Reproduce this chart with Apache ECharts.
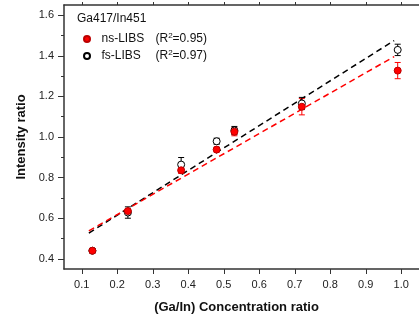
<!DOCTYPE html>
<html><head><meta charset="utf-8">
<script src="https://cdn.jsdelivr.net/npm/echarts@6/dist/echarts.min.js"></script>
<style>html,body{margin:0;padding:0;background:#fff}#c{width:419px;height:320px}</style>
</head><body><div id="c"></div>
<script>
// Data
var conc = [0.13, 0.23, 0.38, 0.48, 0.53, 0.72, 0.99];
var nsVals = [0.44, 0.635, 0.836, 0.938, 1.026, 1.149, 1.327];
var nsErr = [0.01, 0.012, 0.015, 0.012, 0.02, 0.04, 0.04];
var fsVals = [0.44, 0.628, 0.864, 0.979, 1.032, 1.165, 1.429];
var fsErr = [0.01, 0.028, 0.035, 0.015, 0.02, 0.03, 0.028];
var fitX = [0.12, 0.98];
var nsFit = [0.538, 1.396];
var fsFit = [0.527, 1.475];
var xTicks = [0.1, 0.2, 0.3, 0.4, 0.5, 0.6, 0.7, 0.8, 0.9, 1.0];
var yTicks = [0.4, 0.6, 0.8, 1.0, 1.2, 1.4, 1.6];
var yMinor = [0.5, 0.7, 0.9, 1.1, 1.3, 1.5];
var legendTitle = 'Ga417/In451';
var r2 = { 'ns-LIBS': '0.95', 'fs-LIBS': '0.97' };

var font = 'Liberation Sans, Arial, sans-serif';
function zip(a, b) { return a.map(function (v, i) { return [v, b[i]]; }); }
function errData(vals, errs) { return conc.map(function (x, i) { return [x, vals[i] - errs[i], vals[i] + errs[i]]; }); }
function errRender(color) {
  return function (params, api) {
    var x = api.value(0);
    var lo = api.coord([x, api.value(1)]);
    var hi = api.coord([x, api.value(2)]);
    var w = 3;
    var st = { stroke: color, lineWidth: 1 };
    return { type: 'group', children: [
      { type: 'line', shape: { x1: lo[0], y1: lo[1], x2: hi[0], y2: hi[1] }, style: st },
      { type: 'line', shape: { x1: lo[0] - w, y1: lo[1], x2: lo[0] + w, y2: lo[1] }, style: st },
      { type: 'line', shape: { x1: hi[0] - w, y1: hi[1], x2: hi[0] + w, y2: hi[1] }, style: st }
    ] };
  };
}
var axisCol = '#333';
var chart = echarts.init(document.getElementById('c'), null, { renderer: 'canvas' });
chart.setOption({
  animation: false,
  backgroundColor: '#fff',
  textStyle: { fontFamily: font },
  title: { text: legendTitle, left: 77, top: 13, padding: 0, textStyle: { fontSize: 12, fontWeight: 'normal', color: '#111', fontFamily: font } },
  legend: {
    orient: 'vertical', left: 83, top: 32, padding: 0, itemGap: 4, itemWidth: 19, itemHeight: 6,
    data: [{ name: 'ns-LIBS', icon: 'circle' }, { name: 'fs-LIBS', icon: 'circle' }],
    formatter: function (n) {
      return '{n|' + n + '}{a|(R}{s|2}{a|=' + r2[n] + ')}';
    },
    textStyle: { rich: {
      n: { fontSize: 12, color: '#111', fontFamily: font, width: 54 },
      a: { fontSize: 12, color: '#111', fontFamily: font },
      s: { fontSize: 8, color: '#111', fontFamily: font, verticalAlign: 'top', padding: [0, 0, 6, 0] }
    } }
  },
  grid: { left: 64, top: 5, right: -10, bottom: 51, containLabel: false },
  xAxis: [{
    type: 'value', min: 0.05, max: 1.05, position: 'bottom',
    name: '(Ga/In) Concentration ratio', nameLocation: 'middle', nameGap: 32,
    nameTextStyle: { fontSize: 13, fontWeight: 'bold', color: '#111', fontFamily: font, padding: [0, 10, 0, 0] },
    splitLine: { show: false },
    axisLine: { lineStyle: { color: axisCol, width: 1.5 } },
    axisTick: { customValues: xTicks, length: 5, lineStyle: { color: axisCol, width: 1 } },
    axisLabel: { customValues: xTicks, fontSize: 11, color: '#222', margin: 10, formatter: function (v) { return v.toFixed(1); } }
  }, {
    type: 'value', min: 0.05, max: 1.05, position: 'top',
    splitLine: { show: false },
    axisLine: { lineStyle: { color: axisCol, width: 1.5 } },
    axisTick: { customValues: xTicks, length: 3, inside: false, lineStyle: { color: axisCol } },
    axisLabel: { show: false }
  }],
  yAxis: [{
    type: 'value', min: 0.35, max: 1.65, position: 'left',
    name: 'Intensity ratio', nameLocation: 'middle', nameGap: 35,
    nameTextStyle: { fontSize: 13, fontWeight: 'bold', color: '#111', fontFamily: font },
    splitLine: { show: false },
    axisLine: { lineStyle: { color: axisCol, width: 1.5 } },
    axisTick: { customValues: yTicks, length: 6, lineStyle: { color: axisCol } },
    axisLabel: { customValues: yTicks, fontSize: 11, color: '#222', margin: 10, formatter: function (v) { return v.toFixed(1); } }
  }, {
    type: 'value', min: 0.35, max: 1.65, position: 'left',
    splitLine: { show: false },
    axisLine: { show: false },
    axisTick: { customValues: yMinor, length: 3, lineStyle: { color: axisCol } },
    axisLabel: { show: false }
  }],
  series: [
    { name: 'fs-fit', type: 'line', data: zip(fitX, fsFit), symbol: 'none', lineStyle: { color: '#000', width: 1.5, type: [6, 4] }, z: 2 },
    { name: 'ns-fit', type: 'line', data: zip(fitX, nsFit), symbol: 'none', lineStyle: { color: '#f00', width: 1.5, type: [6, 4] }, z: 2 },
    { name: 'ns-err', type: 'custom', data: errData(nsVals, nsErr), renderItem: errRender('#f00'), z: 3 },
    { name: 'fs-err', type: 'custom', data: errData(fsVals, fsErr), renderItem: errRender('#000'), z: 3 },
    { name: 'fs-LIBS', type: 'scatter', data: zip(conc, fsVals), symbol: 'circle', symbolSize: 7,
      itemStyle: { color: '#fff', borderColor: '#000', borderWidth: 1, opacity: 1 }, z: 4 },
    { name: 'ns-LIBS', type: 'scatter', data: zip(conc, nsVals), symbol: 'circle', symbolSize: 7,
      itemStyle: { color: '#f00', borderColor: '#b00', borderWidth: 1, opacity: 1 }, z: 5 }
  ]
});
</script></body></html>
